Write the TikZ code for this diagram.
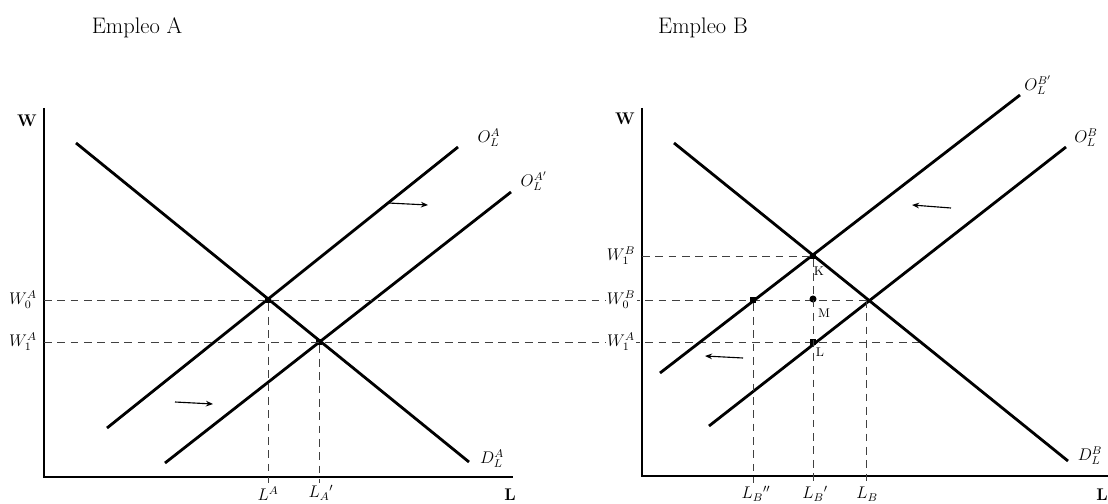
\documentclass[tikz,border=0pt]{standalone}
\usetikzlibrary{arrows.meta}
\begin{document}
\begin{tikzpicture}[
        x=0.025cm, y=-0.025cm,
        every node/.style={
            inner sep=1pt,
            font=\fontsize{12}{14}\selectfont
        },
        axis/.style={line width=2pt},
        curve/.style={line width=2pt},
        guide/.style={draw=black!75, line width=0.6pt, dash pattern=on 5.5pt off 4pt},
        movearrow/.style={-{Stealth[length=5pt,width=4pt]}, line width=0.8pt},
        sqdot/.style={rectangle, fill, inner sep=0pt, minimum size=4.5pt},
        rddot/.style={circle, fill, inner sep=0pt, minimum size=5pt},
        wlab/.style={fill=white, inner sep=1pt},
        title/.style={font=\fontsize{16}{19}\selectfont}
    ]
        \useasboundingbox (0,0) rectangle (1108,504);

        % titulos
        \node[title] (titA) at (137,28) {Empleo A};
        \node[title] (titB) at (703,28) {Empleo B};

        % ---- Empleo A ----
        % ejes
        \coordinate (oA) at (44,477);
        \coordinate (wA) at (44,108);
        \coordinate (lA) at (513,477);
        \draw[axis] (wA) -- (oA) -- (lA);
        \node[font=\bfseries\fontsize{12}{14}\selectfont] (WA) at (27,121) {W};
        \node[font=\bfseries\fontsize{12}{14}\selectfont] (LA) at (510,495) {L};

        % curvas
        \coordinate (dA1) at (76,143);
        \coordinate (dA2) at (469,462);
        \coordinate (sA1) at (107,428);
        \coordinate (sA2) at (458,147);
        \coordinate (tA1) at (165,463);
        \coordinate (tA2) at (511,192);
        \draw[curve] (dA1) -- (dA2);
        \draw[curve] (sA1) -- (sA2);
        \draw[curve] (tA1) -- (tA2);
        \node (labDA) at (492,459) {$D_L^A$};
        \node (labOA) at (489,138) {$O_L^A$};
        \node (labOAp) at (534,181) {$O_L^{A'}$};

        % equilibrios
        \node[sqdot] (eA0) at (268,300) {};
        \node[sqdot] (eA1) at (319,342) {};

        % lineas guia
        \coordinate (gA0) at (44,300);
        \coordinate (gA1) at (44,342);
        \coordinate (fB0) at (866,300);
        \coordinate (fB1) at (920,342);
        \coordinate (xA0) at (268,483);
        \coordinate (xA1) at (319,483);
        \draw[guide] (gA0) -- (fB0);
        \draw[guide] (gA1) -- (fB1);
        \draw[guide] (eA0) -- (xA0);
        \draw[guide] (eA1) -- (xA1);
        \node (labW0A) at (23,300) {$W_0^A$};
        \node (labW1A) at (23,342) {$W_1^A$};
        \node (labLA) at (268,494) {$L^A$};
        \node (labLAp) at (321,493) {$L_A{}'$};

        % desplazamientos
        \coordinate (aA1) at (388,203);
        \coordinate (aA2) at (428,205);
        \coordinate (aA3) at (175,402);
        \coordinate (aA4) at (213,404);
        \draw[movearrow] (aA1) -- (aA2);
        \draw[movearrow] (aA3) -- (aA4);

        % ---- Empleo B ----
        % ejes
        \coordinate (oB) at (642,476);
        \coordinate (wB) at (642,108);
        \coordinate (lB) at (1108,476);
        \draw[axis] (wB) -- (oB) -- (lB);
        \node[font=\bfseries\fontsize{12}{14}\selectfont] (WB) at (625,119) {W};
        \node[font=\bfseries\fontsize{12}{14}\selectfont] (LB) at (1102,495) {L};

        % curvas
        \coordinate (dB1) at (674,143);
        \coordinate (dB2) at (1068,461);
        \coordinate (sB1) at (709,426);
        \coordinate (sB2) at (1066,147);
        \coordinate (tB1) at (660,373);
        \coordinate (tB2) at (1020,95);
        \draw[curve] (dB1) -- (dB2);
        \draw[curve] (sB1) -- (sB2);
        \draw[curve] (tB1) -- (tB2);
        \node (labDB) at (1090,456) {$D_L^B$};
        \node (labOB) at (1086,138) {$O_L^B$};
        \node (labOBp) at (1038,85) {$O_L^{B'}$};

        % puntos
        \node[sqdot] (K) at (813,256) {};
        \node[rddot] (M) at (813,299) {};
        \node[sqdot] (Lp) at (813,342) {};
        \node[sqdot] (eB2) at (753,300) {};
        \node[font=\fontsize{9}{11}\selectfont] (labK) at (819,271) {K};
        \node[font=\fontsize{9}{11}\selectfont] (labM) at (824,313) {M};
        \node[font=\fontsize{9}{11}\selectfont] (labL) at (820,352) {L};

        % lineas guia
        \coordinate (gB1) at (642,256);
        \coordinate (xB0) at (866,483);
        \coordinate (xB1) at (813,483);
        \coordinate (xB2) at (753,483);
        \draw[guide] (gB1) -- (K);
        \draw[guide] (fB0) -- (xB0);
        \draw[guide] (K) -- (xB1);
        \draw[guide] (eB2) -- (xB2);
        \node[wlab] (labW1B) at (621,256) {$W_1^B$};
        \node[wlab] (labW0B) at (621,300) {$W_0^B$};
        \node[wlab] (labW1AB) at (621,342) {$W_1^A$};
        \node (labLBpp) at (756,494) {$L_B{}''$};
        \node (labLBp) at (815,494) {$L_B{}'$};
        \node (labLB) at (867,494) {$L_B$};

        % desplazamientos
        \coordinate (aB1) at (951,208);
        \coordinate (aB2) at (912,205);
        \coordinate (aB3) at (743,358);
        \coordinate (aB4) at (705,356);
        \draw[movearrow] (aB1) -- (aB2);
        \draw[movearrow] (aB3) -- (aB4);

    \end{tikzpicture}
\end{document}
